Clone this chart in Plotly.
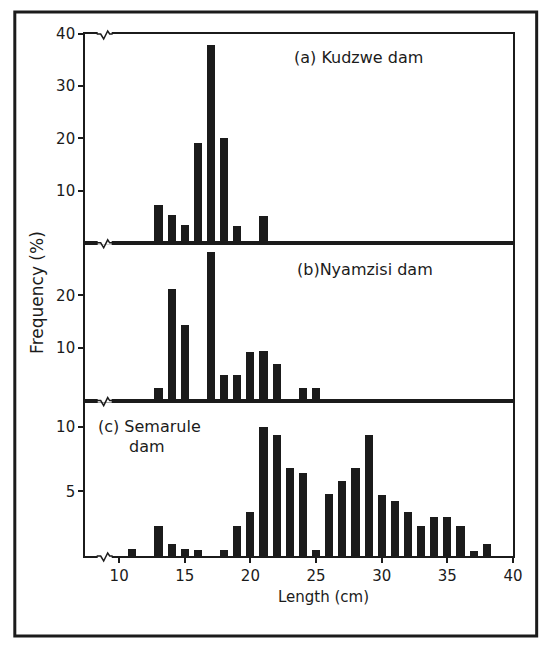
import plotly.graph_objects as go

# length classes (cm) and frequency (%)
kudzwe_len = [13, 14, 15, 16, 17, 18, 19, 21]
kudzwe_freq = [7.3, 5.4, 3.5, 19.2, 37.9, 20.1, 3.2, 5.2]

nyamzisi_len = [13, 14, 15, 17, 18, 19, 20, 21, 22, 24, 25]
nyamzisi_freq = [2.4, 21.3, 14.4, 28.2, 4.9, 4.9, 9.2, 9.4, 7.0, 2.4, 2.4]

semarule_len = [11, 13, 14, 15, 16, 18, 19, 20, 21, 22, 23, 24, 25, 26, 27,
                28, 29, 30, 31, 32, 33, 34, 35, 36, 37, 38]
semarule_freq = [0.54, 2.37, 0.92, 0.54, 0.46, 0.46, 2.37, 3.44, 10.0, 9.41, 6.86,
                 6.43, 0.46, 4.82, 5.82, 6.86, 9.41, 4.72, 4.29, 3.44, 2.37, 3.06,
                 3.06, 2.37, 0.38, 0.92]

x_ticks = [10, 15, 20, 25, 30, 35, 40]

INK = "#1b1b1b"
FONT = dict(family="DejaVu Sans", size=15, color=INK)
BIG = dict(family="DejaVu Sans", size=16, color=INK)

fig = go.Figure()
fig.add_trace(go.Bar(x=semarule_len, y=semarule_freq, xaxis="x", yaxis="y",
                     width=0.62, marker=dict(color=INK, line_width=0)))
fig.add_trace(go.Bar(x=nyamzisi_len, y=nyamzisi_freq, xaxis="x2", yaxis="y2",
                     width=0.62, marker=dict(color=INK, line_width=0)))
fig.add_trace(go.Bar(x=kudzwe_len, y=kudzwe_freq, xaxis="x3", yaxis="y3",
                     width=0.62, marker=dict(color=INK, line_width=0)))

ax = dict(showline=True, mirror=True, linewidth=1.6, linecolor=INK,
          showgrid=False, zeroline=False, range=[7.4, 40.0])
yax = dict(showline=True, mirror=True, linewidth=1.6, linecolor=INK,
           showgrid=False, zeroline=False, ticks="outside", ticklen=5,
           tickwidth=1.5, tickcolor=INK, tickfont=FONT)

dom_c = [0, 0.2977]
dom_b = [0.2977, 0.600]
dom_a = [0.600, 1]

fig.update_layout(
    width=550, height=650,
    margin=dict(l=85, r=37, t=34, b=94),
    paper_bgcolor="white", plot_bgcolor="white",
    showlegend=False, bargap=0,
    font=FONT,
    xaxis=dict(ax, anchor="y", tickvals=x_ticks, ticks="outside", ticklen=5,
               tickwidth=1.5, tickcolor=INK, tickfont=FONT),
    xaxis2=dict(ax, anchor="y2", matches="x", showticklabels=False),
    xaxis3=dict(ax, anchor="y3", matches="x", showticklabels=False),
    yaxis=dict(yax, domain=dom_c, anchor="x", range=[0, 12], tickvals=[5, 10]),
    yaxis2=dict(yax, domain=dom_b, anchor="x2", range=[0, 30], tickvals=[10, 20]),
    yaxis3=dict(yax, domain=dom_a, anchor="x3", range=[0, 40], tickvals=[10, 20, 30, 40]),
)

# outer frame
fig.add_shape(type="rect", xref="paper", yref="paper",
              x0=-0.164, x1=1.0553, y0=-0.1533, y1=1.0422,
              line=dict(color=INK, width=3), layer="below")

# axis break marks on the horizontal lines
for yb in [0, dom_b[0], dom_a[0], 1]:
    fig.add_shape(type="rect", xref="x", yref="paper", xsizemode="pixel", ysizemode="pixel",
                  xanchor=8.9, yanchor=yb, x0=-7, x1=7, y0=-2, y1=2,
                  line_width=0, fillcolor="white", layer="above")
    fig.add_shape(type="path", xref="x", yref="paper", xsizemode="pixel", ysizemode="pixel",
                  xanchor=8.9, yanchor=yb, path="M-8,0 L-4,0 L-1,-5 L3,3 L5,0 L8,0",
                  line=dict(color=INK, width=1.5), layer="above")

ann = [
    dict(text="(a) Kudzwe dam", xref="x3", yref="y3", x=28.2, y=35.5, xanchor="center", font=BIG),
    dict(text="(b)Nyamzisi dam", xref="x2", yref="y2", x=28.7, y=25.0, xanchor="center", font=BIG),
    dict(text="(c) Semarule", xref="x", yref="y", x=8.2, y=10.0, xanchor="left", font=BIG),
    dict(text="dam", xref="x", yref="y", x=10.58, y=8.47, xanchor="left", font=BIG),
    dict(text="Length (cm)", xref="x", yref="paper", x=25.6, y=-0.078, xanchor="center", font=FONT),
    dict(text="Frequency (%)", xref="paper", yref="paper", x=-0.111, y=0.505,
         xanchor="center", textangle=-90, font=dict(BIG, size=17)),
]
for a in ann:
    fig.add_annotation(showarrow=False, yanchor="middle", **a)

fig.write_html("out.html", config={"displayModeBar": False},
               post_script="document.body.style.margin='0';")
